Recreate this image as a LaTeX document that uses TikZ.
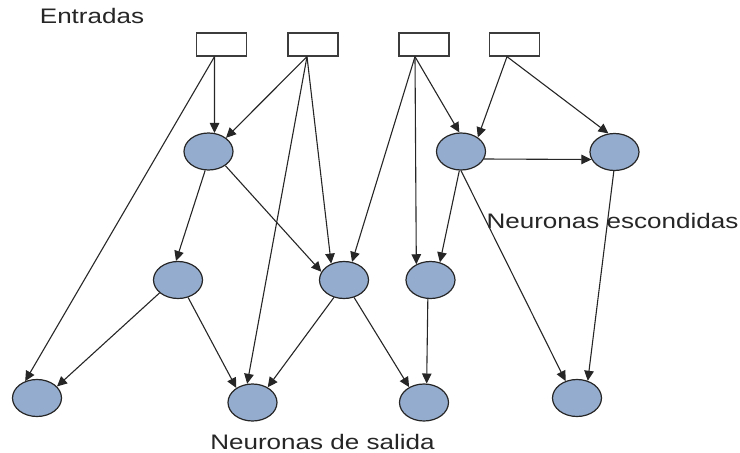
\documentclass[tikz,border=0pt]{standalone}
\usepackage{fontspec}
\setmainfont{Liberation Sans}
\usetikzlibrary{arrows.meta,shapes.geometric}
\definecolor{neuronfill}{RGB}{148,172,206}
\definecolor{boxline}{RGB}{60,60,60}
\begin{document}
\begin{tikzpicture}[x=1pt,y=-1pt,
  inbox/.style={draw=boxline,line width=1.3pt,fill=white,minimum width=50pt,minimum height=23pt,inner sep=0pt},
  neuron/.style={ellipse,draw=black!85,line width=1.2pt,fill=neuronfill,minimum width=49pt,minimum height=37pt,inner sep=0pt},
  link/.style={draw=black!85,line width=1.1pt,-{Triangle[length=10pt,width=9.5pt]}},
  caption/.style={font=\fontsize{21}{25}\selectfont,xscale=1.24,text=black!85,inner sep=0pt}]
\useasboundingbox (0,0) rectangle (740,453);

% input boxes
\node[inbox] (b1) at (221.5,44.5) {};
\node[inbox] (b2) at (313,44.5) {};
\node[inbox] (b3) at (424,44.5) {};
\node[inbox] (b4) at (514.5,44.5) {};

% hidden neurons, first row
\node[neuron] (h1a) at (208.5,151.5) {};
\node[neuron] (h1b) at (461,151.5) {};
\node[neuron] (h1c) at (614.5,152) {};

% hidden neurons, second row
\node[neuron] (h2a) at (178,280) {};
\node[neuron] (h2b) at (344,280) {};
\node[neuron] (h2c) at (430.5,280) {};

% output neurons
\node[neuron] (o1) at (37,398) {};
\node[neuron] (o2) at (252.5,402.5) {};
\node[neuron] (o3) at (424,402.5) {};
\node[neuron] (o4) at (577,398) {};

% labels
\node[caption] (lin) at (92,16) {Entradas};
\node[caption] (lhid) at (612.5,221) {Neuronas escondidas};
\node[caption] (lout) at (322.5,442) {Neuronas de salida};

% outlets at the bottom of the input boxes
\coordinate (s1) at ([xshift=-7pt]b1.south);
\coordinate (s2) at ([xshift=-6pt]b2.south);
\coordinate (s3) at ([xshift=-9pt]b3.south);
\coordinate (s4) at ([xshift=-7.5pt]b4.south);

% connections from the inputs
\draw[link] (s1) -- (h1a.72);
\draw[link] (s1) -- (o1.125);
\draw[link] (s2) -- (h1a.38);
\draw[link] (s2) -- (o2.106);
\draw[link] (s2) -- (h2b.128);
\draw[link] (s3) -- (h2b.66);
\draw[link] (s3) -- (h2c.132);
\draw[link] (s3) -- (h1b.95);
\draw[link] (s4) -- (h1b.40);
\draw[link] (s4) -- (h1c.108);

% connections between neurons
\draw[link] (h1a.-100) -- (h2a.96);
\draw[link] (h1a.-40) -- (h2b.160);
\draw[link] (h1b.-18) -- (h1c.198);
\draw[link] (h1b.-95) -- (h2c.62);
\draw[link] (h1b.-90) -- (o4.124);
\draw[link] (h1c.-92) -- (o4.58);
\draw[link] (h2a.-145) -- (o1.30);
\draw[link] (h2a.-60) -- (o2.138);
\draw[link] (h2b.-120) -- (o2.45);
\draw[link] (h2b.-60) -- (o3.134);
\draw[link] (h2c.-98) -- (o3.82);
\end{tikzpicture}
\end{document}
